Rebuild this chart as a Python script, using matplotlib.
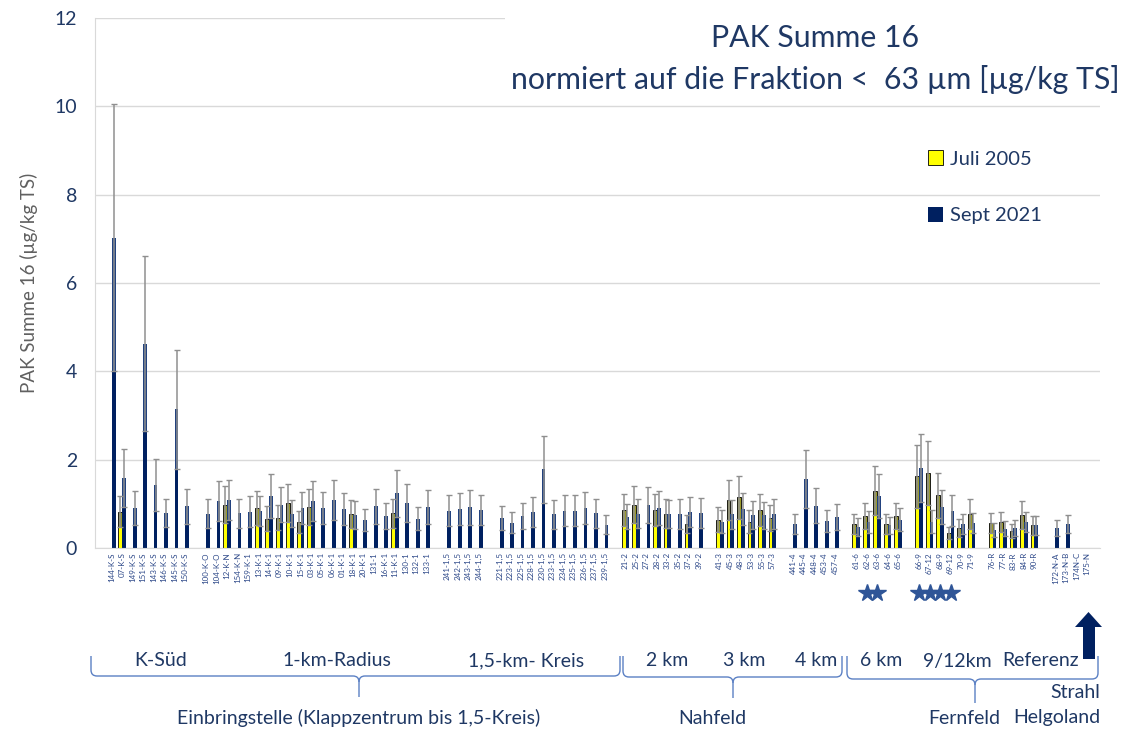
import numpy as np
import matplotlib.pyplot as plt
from matplotlib.path import Path
from matplotlib.patches import PathPatch, Rectangle, Polygon

plt.rcParams['font.family'] = ['Lato', 'DejaVu Sans']

n = None

# stations in plot order, grouped (one empty slot between the groups)
stations = [
    '144-K-S', '07-K-S', '149-K-S', '151-K-S', '143-K-S', '146-K-S', '145-K-S', '150-K-S',
    '100-K-O', '104-K-O', '12-K-N', '154-K-N', '159-K-1', '13-K-1', '14-K-1', '09-K-1', '10-K-1',
    '15-K-1', '03-K-1', '05-K-1', '06-K-1', '01-K-1', '18-K-1', '20-K-1', '131-1', '16-K-1',
    '11-K-1', '130-1', '132-1', '133-1',
    '241-1,5', '242-1,5', '243-1,5', '244-1,5',
    '221-1,5', '223-1,5', '225-1,5', '228-1,5', '230-1,5', '233-1,5', '234-1,5', '235-1,5',
    '236-1,5', '237-1,5', '239-1,5',
    '21-2', '25-2', '27-2', '28-2', '33-2', '35-2', '37-2', '39-2',
    '41-3', '45-3', '48-3', '53-3', '55-3', '57-3',
    '441-4', '445-4', '448-4', '453-4', '457-4',
    '61-6', '62-6', '63-6', '64-6', '65-6',
    '66-9', '67-12', '68-9', '69-12', '70-9', '71-9',
    '76-R', '77-R', '83-R', '84-R', '90-R',
    '172-N-A', '173-N-B', '174N-C', '175-N',
]
group_sizes = [8, 22, 4, 11, 8, 6, 5, 5, 6, 5, 4]

juli_2005 = [
    n, 0.82, n, n, n, n, n, n,
    n, n, 0.98, n, n, 0.90, 0.66, 0.69, 1.01, 0.59, 0.93, n, n, n, 0.77, n, n, n, 0.79, n, n, n,
    n, n, n, n,
    n, n, n, n, n, n, n, n, n, n, n,
    0.86, 0.98, n, 0.86, 0.78, n, 0.54, n,
    0.64, 1.09, 1.15, 0.60, 0.86, 0.68,
    n, n, n, n, n,
    0.54, 0.72, 1.30, 0.54, 0.72,
    1.62, 1.70, 1.19, 0.34, 0.45, 0.78,
    0.57, 0.59, 0.38, 0.75, 0.51,
    n, n, n, n,
]
juli_err = [
    n, 0.35, n, n, n, n, n, n,
    n, n, 0.42, n, n, 0.39, 0.28, 0.29, 0.43, 0.25, 0.40, n, n, n, 0.31, n, n, n, 0.33, n, n, n,
    n, n, n, n,
    n, n, n, n, n, n, n, n, n, n, n,
    0.36, 0.42, n, 0.36, 0.33, n, 0.21, n,
    0.28, 0.46, 0.49, 0.25, 0.36, 0.29,
    n, n, n, n, n,
    0.22, 0.29, 0.55, 0.22, 0.30,
    0.71, 0.73, 0.51, 0.13, 0.20, 0.34,
    0.23, 0.23, 0.16, 0.31, 0.22,
    n, n, n, n,
]
sept_2021 = [
    7.03, 1.59, 0.90, 4.63, 1.42, 0.80, 3.14, 0.94,
    0.78, 1.06, 1.08, 0.79, 0.82, 0.83, 1.18, 0.98, 0.78, 0.90, 1.06, 0.90, 1.09, 0.88, 0.75,
    0.63, 0.94, 0.72, 1.24, 1.02, 0.66, 0.93,
    0.84, 0.88, 0.92, 0.86,
    0.67, 0.57, 0.72, 0.82, 1.78, 0.76, 0.84, 0.84, 0.90, 0.79, 0.53,
    0.71, 0.78, 0.98, 0.91, 0.77, 0.77, 0.82, 0.80,
    0.60, 0.76, 0.88, 0.75, 0.74, 0.78,
    0.54, 1.57, 0.96, 0.61, 0.70,
    0.47, 0.59, 1.18, 0.51, 0.64,
    1.82, 0.60, 0.93, 0.84, 0.54, 0.57,
    0.40, 0.44, 0.46, 0.59, 0.51,
    0.45, 0.54, n, n,
]
sept_err = [
    3.02, 0.66, 0.38, 1.99, 0.59, 0.32, 1.35, 0.39,
    0.32, 0.45, 0.45, 0.33, 0.35, 0.34, 0.49, 0.39, 0.31, 0.36, 0.45, 0.36, 0.46, 0.36, 0.31,
    0.25, 0.39, 0.29, 0.53, 0.42, 0.26, 0.38,
    0.35, 0.36, 0.39, 0.35,
    0.27, 0.24, 0.30, 0.34, 0.75, 0.32, 0.35, 0.35, 0.36, 0.33, 0.22,
    0.29, 0.32, 0.41, 0.39, 0.32, 0.33, 0.34, 0.34,
    0.25, 0.33, 0.36, 0.32, 0.30, 0.34,
    0.23, 0.66, 0.40, 0.24, 0.29,
    0.20, 0.25, 0.50, 0.20, 0.26,
    0.77, 0.26, 0.39, 0.35, 0.22, 0.22,
    0.16, 0.17, 0.18, 0.23, 0.21,
    0.18, 0.21, n, n,
]
starred = ['62-6', '63-6', '66-9', '67-12', '68-9', '69-12']

NAVY = '#002060'
TXT = '#1F3864'
BRACE = '#5B80C4'
W, H = 1125, 731

# x slot of every station, leaving one empty slot between groups
xpos = []
p = 0
for g in group_sizes:
    xpos.extend(range(p, p + g))
    p += g + 1
xpos = np.array(xpos, dtype=float)

fig = plt.figure(figsize=(W / 100, H / 100), dpi=100)
ax = fig.add_axes([95 / W, 1 - 548 / H, (1100 - 95) / W, (548 - 18) / H])

bw = 0.36


def draw_series(vals, errs, color, upper, edge, offset, label):
    v = np.array([np.nan if a is None else a for a in vals])
    e = np.array([np.nan if a is None else a for a in errs])
    m = ~np.isnan(v)
    xb = xpos[m] + offset
    lw = 0.6 if edge != 'none' else 0
    ax.bar(xb, v[m] - e[m], bw, color=color, edgecolor=edge, linewidth=lw, label=label, zorder=2)
    ax.bar(xb, e[m], bw, bottom=v[m] - e[m], color=upper, edgecolor=edge, linewidth=lw, zorder=2)
    ax.errorbar(xb, v[m], yerr=e[m], fmt='none', ecolor='#8f8f8f', elinewidth=1.1,
                capsize=2.2, capthick=1.0, zorder=3)


draw_series(juli_2005, juli_err, '#FFFF00', '#9A9A2C', 'black', -bw / 2, 'Juli 2005')
draw_series(sept_2021, sept_err, NAVY, '#22427F', 'none', bw / 2, 'Sept 2021')

ax.set_xlim(-1.6, 94.25)
ax.set_ylim(0, 12)
ax.set_yticks(range(0, 13, 2))
ax.yaxis.grid(True, color='#D9D9D9', lw=1)
ax.set_axisbelow(True)
ax.tick_params(axis='y', length=0, labelsize=14, labelcolor=TXT, pad=13)
ax.set_xticks(xpos)
ax.set_xticklabels(stations, rotation=90, fontsize=5.8, color='#2F4A8A')
ax.tick_params(axis='x', length=0, pad=3)
for s in ['top', 'right']:
    ax.spines[s].set_visible(False)
ax.spines['left'].set_color('#D9D9D9')
ax.spines['bottom'].set_color('#D9D9D9')
ax.set_ylabel('PAK Summe 16 (µg/kg TS)', fontsize=13.5, color='#606060', labelpad=12)

# stars under selected stations
sx = [xpos[stations.index(s)] for s in starred]
ax.plot(sx, [-1.02] * len(sx), ls='none', marker='*', ms=13, color='#2F5597', clip_on=False)

# white title box over the gridlines
fig.add_artist(Rectangle((505 / W, 1 - 100 / H), 1, 1, transform=fig.transFigure,
                         facecolor='white', edgecolor='none', zorder=1))
fig.text(815 / W, 1 - 38 / H, 'PAK Summe 16', ha='center', va='center', fontsize=21.8,
         color=TXT, zorder=4)
fig.text(815 / W, 1 - 79 / H, 'normiert auf die Fraktion <  63 µm [µg/kg TS]', ha='center',
         va='center', fontsize=21.8, color=TXT, zorder=4)

leg = ax.legend(loc='upper left', bbox_to_anchor=(910 / W, 1 - 132 / H),
                bbox_transform=fig.transFigure, frameon=False, fontsize=14.5,
                labelspacing=1.95, handlelength=0.75, handleheight=0.75, handletextpad=0.35,
                labelcolor=TXT)


def fx(x):
    return x / W


def fy(y):
    return 1 - y / H


def brace(x0, x1, xm, y, ytop, ybot, r=6):
    pts = [(x0, ytop), (x0, y - r), (x0, y), (x0 + r, y), (xm - r, y), (xm, y), (xm, y + r),
           (xm, ybot)]
    codes = [Path.MOVETO, Path.LINETO, Path.CURVE3, Path.CURVE3, Path.LINETO, Path.CURVE3,
             Path.CURVE3, Path.LINETO]
    pts2 = [(xm, y + r), (xm, y), (xm + r, y), (x1 - r, y), (x1, y), (x1, y - r), (x1, ytop)]
    codes2 = [Path.MOVETO, Path.CURVE3, Path.CURVE3, Path.LINETO, Path.CURVE3, Path.CURVE3,
              Path.LINETO]
    for pp, cc in [(pts, codes), (pts2, codes2)]:
        path = Path([(fx(a), fy(b)) for a, b in pp], cc)
        fig.add_artist(PathPatch(path, fill=False, edgecolor=BRACE, lw=1.0,
                                 transform=fig.transFigure))


brace(91, 620, 359, 676, 656, 697)
brace(623, 842, 733, 677, 656, 698)
brace(847, 1098, 975, 679, 656, 703)

fs = 14
labels_top = [('K-Süd', 161), ('1-km-Radius', 337), ('1,5-km- Kreis', 526), ('2 km', 667),
              ('3 km', 744), ('4 km', 816), ('6 km', 881), ('9/12km', 957), ('Referenz', 1041)]
for t, x in labels_top:
    fig.text(fx(x), fy(661), t, ha='center', va='center', fontsize=fs, color=TXT)
fig.text(fx(359), fy(718), 'Einbringstelle (Klappzentrum bis 1,5-Kreis)', ha='center',
         va='center', fontsize=fs, color=TXT)
fig.text(fx(712), fy(718), 'Nahfeld', ha='center', va='center', fontsize=fs, color=TXT)
fig.text(fx(964), fy(718), 'Fernfeld', ha='center', va='center', fontsize=fs, color=TXT)
fig.text(fx(1100), fy(692), 'Strahl', ha='right', va='center', fontsize=fs, color=TXT)
fig.text(fx(1100), fy(718), 'Helgoland', ha='right', va='center', fontsize=fs, color=TXT)

arrow = [(1083, 659), (1095, 659), (1095, 627), (1102, 627), (1088.5, 612), (1075, 627),
         (1083, 627)]
fig.add_artist(Polygon([(fx(a), fy(b)) for a, b in arrow], closed=True, facecolor=NAVY,
                       edgecolor='none', transform=fig.transFigure))

fig.savefig('out.png', dpi=100)
